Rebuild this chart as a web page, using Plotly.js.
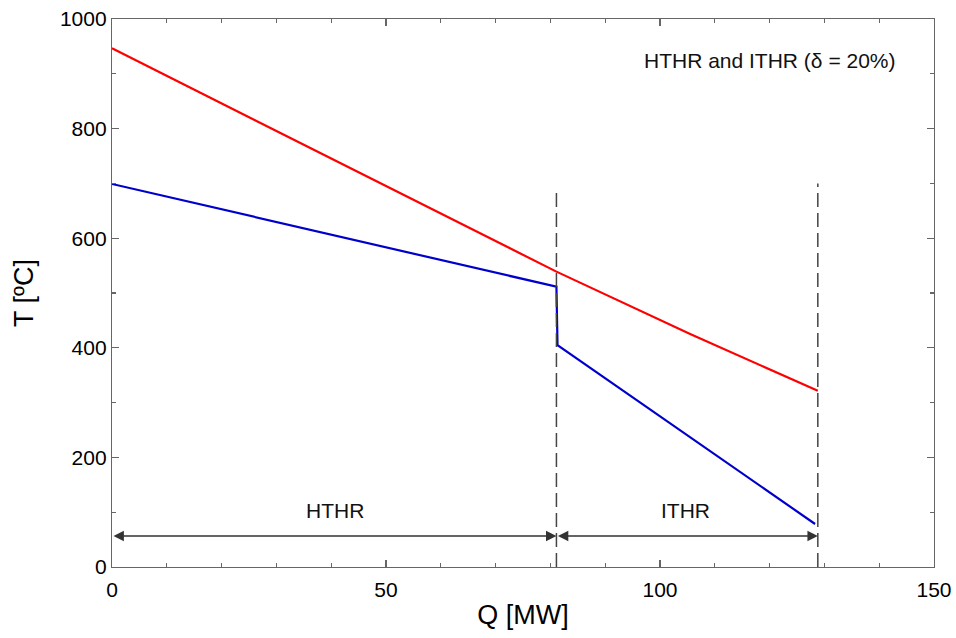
<!DOCTYPE html>
<html>
<head>
<meta charset="utf-8">
<script src="https://cdn.plot.ly/plotly-3.0.1.min.js"></script>
<style>html,body{margin:0;padding:0;background:#fff;}#chart{width:956px;height:638px;}</style>
</head>
<body>
<div id="chart"></div>
<script>
// Hot stream (red)
const redQ = [0, 38, 81.1, 105.5, 128.8];
const redT = [946.5, 755, 539, 425, 321.7];
// Cold stream (blue)
const blueQ = [0, 81.1, 81.3, 128.3];
const blueT = [699, 511.5, 405, 78.5];
// Section boundaries (dashed)
const boundQ = [81.1, 128.8];
const boundTop = [685, 700];
// Section arrows
const arrowT = 56.6;
const sectionNames = ["HTHR", "ITHR"];
const sectionStart = [0, 81.1];
const sectionEnd = [81.1, 128.8];
const sectionLabelQ = [40.7, 104.6];
const sectionLabelT = 104;
const noteText = "HTHR and ITHR (δ = 20%)";
const noteQ = 120.1, noteT = 925;

const font = "Arial, 'Liberation Sans', sans-serif";

const traces = [
  {x: redQ, y: redT, mode: "lines", line: {color: "#ff0000", width: 2.2}, hoverinfo: "skip"},
  {x: blueQ, y: blueT, mode: "lines", line: {color: "#0000cc", width: 2.2}, hoverinfo: "skip"}
];
boundQ.forEach((q, i) => {
  traces.push({x: [q, q], y: [0, boundTop[i]], mode: "lines",
    line: {color: "#444", width: 1.5, dash: "14px,6px"}, hoverinfo: "skip"});
});

const annotations = [];
sectionNames.forEach((name, i) => {
  annotations.push({x: sectionEnd[i], y: arrowT, ax: sectionStart[i], ay: arrowT,
    xref: "x", yref: "y", axref: "x", ayref: "y", text: "", showarrow: true,
    arrowhead: 2, startarrowhead: 2, arrowside: "end+start", arrowsize: 1.3,
    arrowwidth: 1.6, arrowcolor: "#333", standoff: 0, startstandoff: 0});
  annotations.push({x: sectionLabelQ[i], y: sectionLabelT, xref: "x", yref: "y",
    text: name, showarrow: false, font: {family: font, size: 21, color: "#111"}});
});
annotations.push({x: noteQ, y: noteT, xref: "x", yref: "y", text: noteText,
  showarrow: false, font: {family: font, size: 21, color: "#111"}});

const axisCommon = {
  showgrid: false, zeroline: false, showline: true, linecolor: "#666", linewidth: 1.2,
  mirror: "allticks", ticks: "inside", ticklen: 7, tickcolor: "#666", tickwidth: 1.2,
  tickfont: {family: font, size: 21, color: "#000"}
};

const layout = {
  width: 956, height: 638,
  margin: {l: 112, r: 22, t: 19, b: 71},
  paper_bgcolor: "#fff", plot_bgcolor: "#fff",
  showlegend: false,
  xaxis: Object.assign({}, axisCommon, {
    range: [0, 150], tickvals: [0, 50, 100, 150], ticklabelstandoff: 4,
    minor: {ticks: "inside", ticklen: 4, tickcolor: "#666", dtick: 10, tick0: 0},
    title: {text: "Q [MW]", font: {family: font, size: 27, color: "#000"}, standoff: 4}
  }),
  yaxis: Object.assign({}, axisCommon, {
    range: [0, 1000], tickvals: [0, 200, 400, 600, 800, 1000],
    minor: {ticks: "inside", ticklen: 4, tickcolor: "#666", dtick: 100, tick0: 0},
    title: {text: "T [ºC]", font: {family: font, size: 27, color: "#000"}, standoff: 18}
  }),
  annotations: annotations
};

Plotly.newPlot("chart", traces, layout, {staticPlot: true, displayModeBar: false});
</script>
</body>
</html>
